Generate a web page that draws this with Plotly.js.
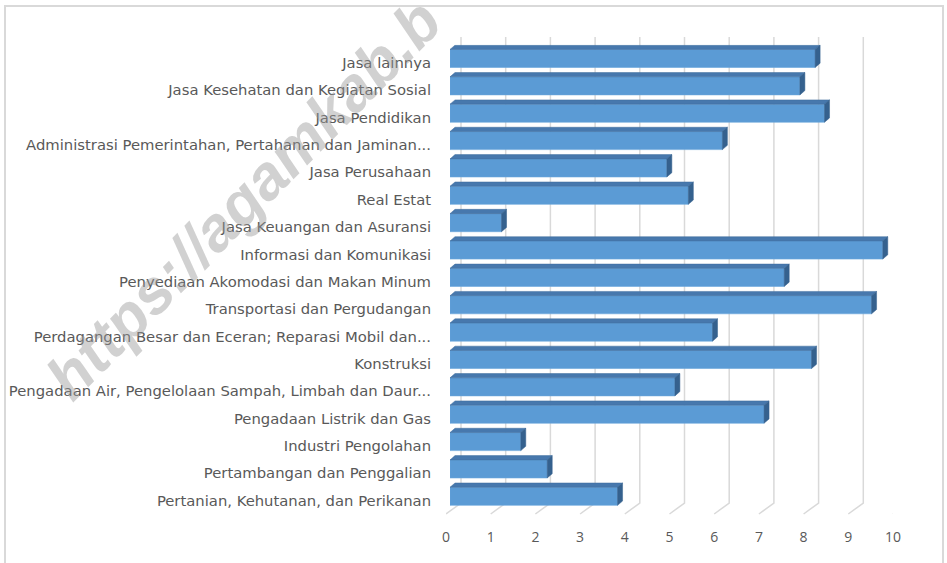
<!DOCTYPE html>
<html>
<head>
<meta charset="utf-8">
<script src="https://cdn.plot.ly/plotly-3.0.1.min.js"></script>
<style>html,body{margin:0;padding:0;background:#fff;}#chart{width:947px;height:563px;}</style>
</head>
<body>
<div id="chart"></div>
<script>
// Categories listed bottom to top (as drawn by the horizontal bar axis)
const categories = [
  "Pertanian, Kehutanan, dan Perikanan",
  "Pertambangan dan Penggalian",
  "Industri Pengolahan",
  "Pengadaan Listrik dan Gas",
  "Pengadaan Air, Pengelolaan Sampah, Limbah dan Daur...",
  "Konstruksi",
  "Perdagangan Besar dan Eceran; Reparasi Mobil dan...",
  "Transportasi dan Pergudangan",
  "Penyediaan Akomodasi dan Makan Minum",
  "Informasi dan Komunikasi",
  "Jasa Keuangan dan Asuransi",
  "Real Estat",
  "Jasa Perusahaan",
  "Administrasi Pemerintahan, Pertahanan dan Jaminan...",
  "Jasa Pendidikan",
  "Jasa Kesehatan dan Kegiatan Sosial",
  "Jasa lainnya"
];
const values = [3.74, 2.17, 1.58, 7.01, 5.02, 8.07, 5.86, 9.41, 7.46, 9.66, 1.15, 5.32, 4.84, 6.08, 8.36, 7.81, 8.15];
const xTickValues = [0, 1, 2, 3, 4, 5, 6, 7, 8, 9, 10];
const watermarkText = "https://agamkab.b";

const W = 947, H = 563;
const idx = categories.map((_, i) => i);

// geometry (pixels)
const frontX0 = 446, frontX10 = 893;
const barX0 = 450, barX10 = 898;
const catTop = 49.1, catBottom = 514.3;
const barShiftUp = 4.3;
const unitPx = (frontX10 - frontX0) / 10;
const catPx = (catBottom - catTop) / categories.length;

const half = 0.33;
const dx = 5 / ((barX10 - barX0) / 10);
const dy = 4.3 / catPx;

const shapes = [];
// chart frame
shapes.push({type:'rect', xref:'paper', yref:'paper', x0:5/W, x1:943/W, y0:-0.05, y1:1-6/H,
  line:{color:'#d9d9d9', width:2}, fillcolor:'rgba(0,0,0,0)', layer:'below'});
// 3D gridlines: back wall + floor diagonal
const backOff = 15 / unitPx;
const yTop = 1 - 37/H, yBack = 1 - 503/H, yFront = 1 - 514/H;
xTickValues.forEach(v => {
  shapes.push({type:'path', xref:'x', yref:'paper', layer:'below',
    path:`M ${v+backOff},${yTop} L ${v+backOff},${yBack} L ${v},${yFront}`,
    line:{color:'#d9d9d9', width:1.5}});
});
// bar top and side faces
values.forEach((v, i) => {
  shapes.push({type:'path', xref:'x2', yref:'y2', layer:'above',
    path:`M 0,${i+half} L ${v},${i+half} L ${v+dx},${i+half+dy} L ${dx},${i+half+dy} Z`,
    fillcolor:'#4778ad', line:{color:'#3f6c9c', width:0.5}});
  shapes.push({type:'path', xref:'x2', yref:'y2', layer:'above',
    path:`M ${v},${i-half} L ${v},${i+half} L ${v+dx},${i+half+dy} L ${v+dx},${i-half+dy} Z`,
    fillcolor:'#35618e', line:{color:'#35618e', width:0.5}});
});

const trace = {
  type:'bar', orientation:'h',
  x: values, y: idx,
  xaxis:'x2', yaxis:'y2',
  width: 0.66,
  marker:{color:'#5b9bd5', line:{color:'#6aa6dc', width:0.6}},
  hoverinfo:'x+text', text: categories, textposition:'none'
};

const yDom = [(H - catBottom)/H, (H - catTop)/H];
const labelFont = {size:14.8, color:'#595959', family:'"DejaVu Sans", sans-serif'};
const layout = {
  width: W, height: H,
  margin:{l:0, r:0, t:0, b:0},
  paper_bgcolor:'#ffffff', plot_bgcolor:'rgba(0,0,0,0)',
  showlegend:false,
  font:{family:'"Open Sans", sans-serif', color:'#595959', size:14},
  xaxis:{domain:[frontX0/W, frontX10/W], range:[0,10], anchor:'free', position:(H-527)/H,
    tickvals:xTickValues, ticktext:xTickValues.map(String), showgrid:false, zeroline:false,
    showline:false, ticks:'', tickfont:{size:14, color:'#595959', family:'"Open Sans", sans-serif'}, fixedrange:true},
  yaxis:{domain:yDom, range:[-0.5, categories.length-0.5], anchor:'free', position:frontX0/W,
    tickvals:idx, ticktext:categories, showgrid:false, zeroline:false, showline:false,
    ticks:'outside', ticklen:12, tickcolor:'rgba(0,0,0,0)',
    tickfont:labelFont, fixedrange:true},
  xaxis2:{domain:[barX0/W, barX10/W], range:[0,10], anchor:'y2', visible:false, fixedrange:true},
  yaxis2:{domain:[yDom[0]+barShiftUp/H, yDom[1]+barShiftUp/H], range:[-0.5, categories.length-0.5],
    anchor:'x2', visible:false, fixedrange:true},
  shapes: shapes,
  annotations:[{
    text: watermarkText, xref:'paper', yref:'paper', x:243/W, y:1-199/H,
    xanchor:'center', yanchor:'middle', showarrow:false, textangle:-45.4,
    font:{family:'"Liberation Sans", Arial, sans-serif', size:62, color:'rgba(150,150,150,0.44)', weight:'bold', style:'italic'}
  }]
};

Plotly.newPlot('chart', [trace], layout, {displayModeBar:false, staticPlot:true});
</script>
</body>
</html>
